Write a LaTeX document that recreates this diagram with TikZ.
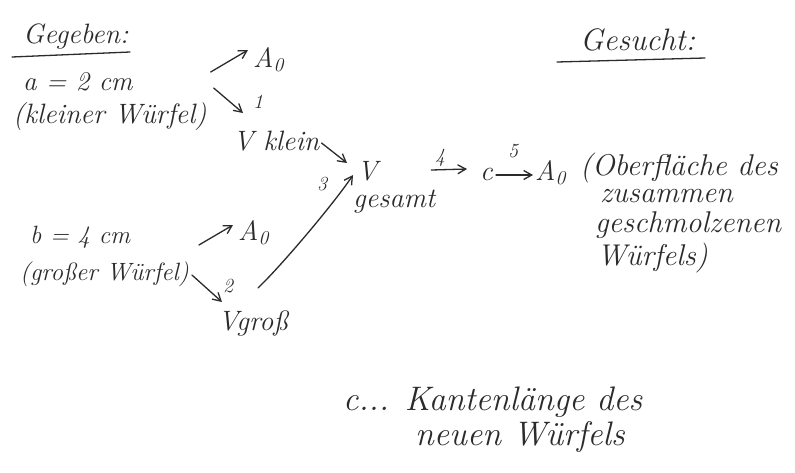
\documentclass[tikz,border=0pt]{standalone}
\usetikzlibrary{arrows.meta}
\definecolor{inkc}{HTML}{2B2B2B}
\begin{document}
\begin{tikzpicture}[x=1pt,y=-1pt,
  ink/.style={draw=inkc, line width=1.3pt, line cap=round},
  arr/.style={ink, -{Straight Barb[length=8pt,width=9pt,line width=1.3pt]}},
  txt/.style={inner sep=0pt, anchor=base west, text=inkc, font=\fontsize{28}{32}\selectfont\itshape},
  given/.style={txt, font=\fontsize{27}{30}\selectfont\itshape},
  large/.style={txt, font=\fontsize{25}{28}\selectfont\itshape},
  head/.style={txt, font=\fontsize{31}{34}\selectfont\itshape},
  note/.style={txt, font=\fontsize{30}{34}\selectfont\itshape},
  foot/.style={txt, font=\fontsize{34}{38}\selectfont\itshape},
  small/.style={txt, font=\fontsize{20}{22}\selectfont\itshape}]
\fill[white] (0,0) rectangle (795,472);
\useasboundingbox (0,0) rectangle (795,472);

% headings
\node[txt] (given) at (23,43) {Gegeben:};
\draw[ink] ([shift={(-11,14)}]given.base west) -- ([shift={(107,9)}]given.base west);
\node[head] (sought) at (580,50) {Gesucht:};
\draw[ink] ([shift={(-23,12)}]sought.base west) -- ([shift={(125,8)}]sought.base west);

% small cube
\node[given] (a)  at (23,90)  {a = 2 cm};
\node[txt] (kl) at (13,123) {(kleiner Würfel)};
\node[txt] (Aa) at (253,67) {A\textsubscript{0}};
\node[small] (n1) at (253,108) {1};
\node[txt] (Vk) at (233,150) {V klein};

% large cube
\node[large] (b)  at (30,243) {b = 4 cm};
\node[large] (gr) at (20,280) {(großer Würfel)};
\node[txt] (Ab) at (238,240) {A\textsubscript{0}};
\node[small] (n2) at (223,292) {2};
\node[txt] (Vgr) at (218,330) {Vgroß};

% total volume and result
\node[txt] (Vg) at (357,180) {V};
\node[txt] (ges) at (353,207) {gesamt};
\node[small] (n3) at (317,190) {3};
\node[txt] (c)  at (480,180) {c};
\node[txt] (Ac) at (535,180) {A\textsubscript{0}};
\node[small] (n4) at (435,162) {4};
\node[small] (n5) at (508,157) {5};
\node[note] (o1) at (580,175) {(Oberfläche des};
\node[note] (o2) at (600,202) {zusammen};
\node[note] (o3) at (595,232) {geschmolzenen};
\node[note] (o4) at (597,265) {Würfels)};

% definition of c
\node[foot] (cd1) at (343,410) {c... Kantenlänge des};
\node[foot] (cd2) at (415,445) {neuen Würfels};

% connectors
\draw[arr] ([shift={(4,-51)}]kl.base east) -- ([shift={(-5,-17)}]Aa.base west);
\draw[arr] ([shift={(7,-35)}]kl.base east) -- ([shift={(10,-37)}]Vk.base west);
\draw[arr] ([shift={(2,-7)}]Vk.base east) -- ([shift={(-10,-17)}]Vg.base west);
\draw[arr] ([shift={(10,-35)}]gr.base east) -- ([shift={(-5,-15)}]Ab.base west);
\draw[arr] ([shift={(3,-5)}]gr.base east) -- ([shift={(4,-28)}]Vgr.base west);
\draw[arr] ([shift={(40,-42)}]Vgr.base west) .. controls +(25,-24) and +(-18,27) .. ([shift={(-4,-5)}]Vg.base west);
\draw[arr] ([shift={(-4,-37)}]ges.base east) -- ([shift={(-13,-11)}]c.base west);
\draw[arr] ([shift={(3,-5)}]c.base east) -- ([shift={(-2,-5)}]Ac.base west);
\end{tikzpicture}
\end{document}
